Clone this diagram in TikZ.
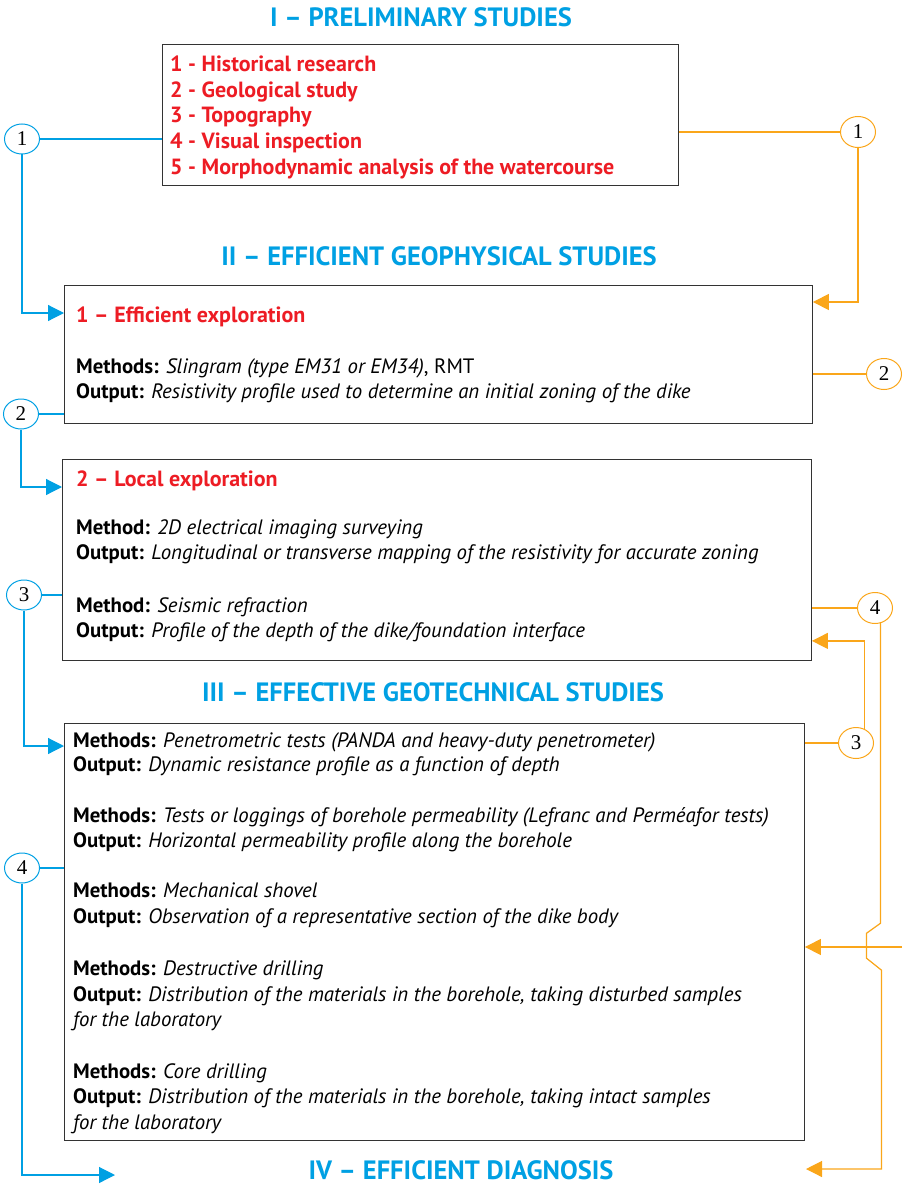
\documentclass[tikz,border=0pt]{standalone}
\usepackage{fontspec}
\setmainfont{PT Sans}
\newfontfamily\numfont{Liberation Serif}
\usetikzlibrary{arrows.meta,shapes.geometric}
\definecolor{cyanb}{RGB}{0,160,227}
\definecolor{orng}{RGB}{250,166,26}
\definecolor{redt}{RGB}{237,28,36}

\begin{document}
\begin{tikzpicture}[x=1pt,y=-1pt,
  title/.style={font=\fontsize{26.5}{30}\selectfont\bfseries,text=cyanb,inner sep=0},
  txt/.style={anchor=base west,font=\fontsize{20.8}{24}\selectfont,inner sep=0},
  head/.style={txt,font=\fontsize{22}{24}\selectfont\bfseries,text=redt},
  box/.style={draw=black!80,line width=0.9pt,anchor=north west,inner sep=0},
  num/.style={ellipse,draw,line width=1pt,minimum width=35pt,minimum height=30pt,inner sep=0,font=\fontsize{21}{24}\selectfont\numfont},
  bll/.style={cyanb,line width=1.2pt},
  orl/.style={orng,line width=1.2pt},
  tip/.style={-{Triangle[length=16pt,width=16pt]}}]
  \useasboundingbox (0,0) rectangle (902,1185);

  % I
  \node[title] (t1) at (421,17) {I – PRELIMINARY STUDIES};
  \node[box,minimum width=516pt,minimum height=141pt] (b1) at (162,44) {};
  \node[head] (p1) at (170,72) {1 - Historical research};
  \node[head] (p2) at (170,98) {2 - Geological study};
  \node[head] (p3) at (170,123) {3 - Topography};
  \node[head] (p4) at (170,149) {4 - Visual inspection};
  \node[head] (p5) at (170,175) {5 - Morphodynamic analysis of the watercourse};

  % II
  \node[title] (t2) at (439,256) {II – EFFICIENT GEOPHYSICAL STUDIES};
  \node[box,minimum width=748pt,minimum height=138pt] (b2) at (64,285) {};
  \node[head] (g0) at (76,322) {1 – Efficient exploration};
  \node[txt] (g1) at (76,373) {\textbf{Methods:} \textit{Slingram (type EM31 or EM34)}, RMT};
  \node[txt] (g2) at (76,398) {\textbf{Output:} \textit{Resistivity profile used to determine an initial zoning of the dike}};

  \node[box,minimum width=749pt,minimum height=201pt] (b3) at (62,459) {};
  \node[head] (k0) at (76,486) {2 – Local exploration};
  \node[txt] (k1) at (76,534) {\textbf{Method:} \textit{2D electrical imaging surveying}};
  \node[txt] (k2) at (76,559) {\textbf{Output:} \textit{Longitudinal or transverse mapping of the resistivity for accurate zoning}};
  \node[txt] (k3) at (76,612) {\textbf{Method:} \textit{Seismic refraction}};
  \node[txt] (k4) at (76,637) {\textbf{Output:} \textit{Profile of the depth of the dike/foundation interface}};

  % III
  \node[title] (t3) at (433,692) {III – EFFECTIVE GEOTECHNICAL STUDIES};
  \node[box,minimum width=740pt,minimum height=417pt] (b4) at (64,723) {};
  \node[txt] (m1) at (73,747) {\textbf{Methods:} \textit{Penetrometric tests (PANDA and heavy-duty penetrometer)}};
  \node[txt] (m2) at (73,771) {\textbf{Output:} \textit{Dynamic resistance profile as a function of depth}};
  \node[txt] (m3) at (73,822) {\textbf{Methods:} \textit{Tests or loggings of borehole permeability (Lefranc and Perméafor tests)}};
  \node[txt] (m4) at (73,847) {\textbf{Output:} \textit{Horizontal permeability profile along the borehole}};
  \node[txt] (m5) at (73,897) {\textbf{Methods:} \textit{Mechanical shovel}};
  \node[txt] (m6) at (73,923) {\textbf{Output:} \textit{Observation of a representative section of the dike body}};
  \node[txt] (m7) at (73,975) {\textbf{Methods:} \textit{Destructive drilling}};
  \node[txt] (m8) at (73,1001) {\textbf{Output:} \textit{Distribution of the materials in the borehole, taking disturbed samples}};
  \node[txt] (m9) at (73,1026) {\textit{for the laboratory}};
  \node[txt] (m10) at (73,1078) {\textbf{Methods:} \textit{Core drilling}};
  \node[txt] (m11) at (73,1103) {\textbf{Output:} \textit{Distribution of the materials in the borehole, taking intact samples}};
  \node[txt] (m12) at (73,1129) {\textit{for the laboratory}};

  % IV
  \node[title] (t4) at (461,1170) {IV – EFFICIENT DIAGNOSIS};

  % left links
  \node[num,draw=cyanb] (c1) at (22,139) {1};
  \node[num,draw=cyanb] (c2) at (21,414) {2};
  \node[num,draw=cyanb] (c3) at (24,595) {3};
  \node[num,draw=cyanb] (c4) at (22,868) {4};
  \coordinate (d1) at (115,1175);
  \draw[bll] (c1.east) -- (c1.east -| b1.west);
  \draw[bll,tip] (c1.south) |- ([yshift=-28pt]b2.north west);
  \draw[bll] (c2.east) -- (c2.east -| b2.west);
  \draw[bll,tip] (c2.south) |- ([yshift=-28pt]b3.north west);
  \draw[bll] (c3.east) -- (c3.east -| b3.west);
  \draw[bll,tip] (c3.south) |- ([yshift=-23pt]b4.north west);
  \draw[bll] (c4.east) -- (c4.east -| b4.west);
  \draw[bll,tip] (c4.south) |- (d1);

  % right links
  \node[num,draw=orng,minimum height=31pt] (o1) at (858,132) {1};
  \node[num,draw=orng,minimum height=31pt] (o2) at (884,374) {2};
  \node[num,draw=orng,minimum height=31pt] (o3) at (856,743) {3};
  \node[num,draw=orng,minimum height=31pt] (o4) at (875,608) {4};
  \coordinate (in) at (902,947);
  \coordinate (d4) at (806,1169);
  \draw[orl] (o1.west -| b1.east) -- (o1.west);
  \draw[orl,tip] (o1.south) |- ([yshift=-17pt]b2.north east);
  \draw[orl] (o2.west -| b2.east) -- (o2.west);
  \draw[orl] (o4.west -| b3.east) -- (o4.west);
  \draw[orl] (o3.west -| b4.east) -- (o3.west);
  \draw[orl,tip] (o3.60) |- ([yshift=20pt]b3.south east);
  \draw[orl,tip] (in) -- (in -| b4.east);
  \draw[orl,tip] (o4.-70) -- ++(0,300) -- ++(-14,10) -- ++(0,25) -- ++(15,12) |- (d4);
\end{tikzpicture}
\end{document}
